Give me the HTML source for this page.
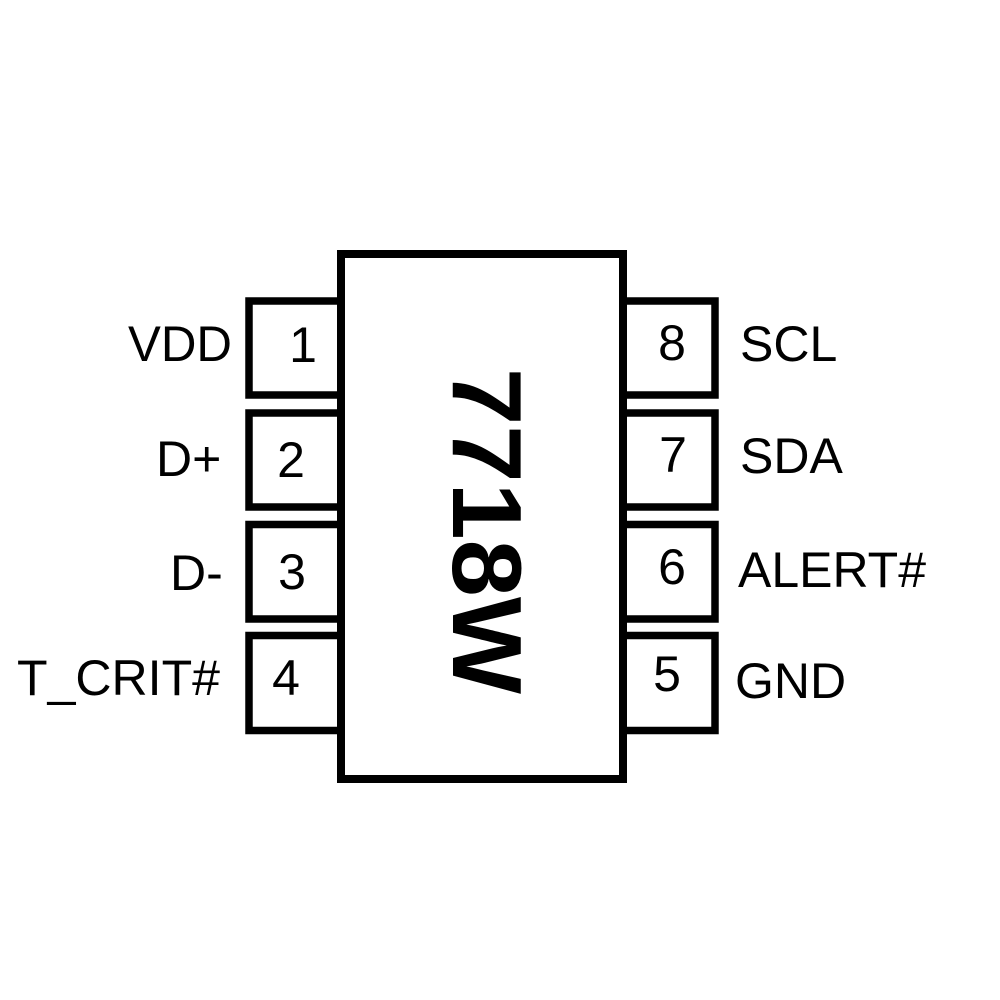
<!DOCTYPE html>
<html>
<head>
<meta charset="utf-8">
<style>
  html, body { margin:0; padding:0; background:#fff; }
  svg { display:block; }
  text { font-family: "Liberation Sans", Arial, sans-serif; fill:#000; }
</style>
</head>
<body>
<svg width="1000" height="1000" viewBox="0 0 1000 1000" xmlns="http://www.w3.org/2000/svg">
  <rect x="0" y="0" width="1000" height="1000" fill="#fff"/>

  <!-- Left pins (outer 245..345, stroke 8) -->
  <g fill="#fff" stroke="#000" stroke-width="7.5">
    <rect x="249" y="301" width="96" height="94"/>
    <rect x="249" y="413" width="96" height="94"/>
    <rect x="249" y="524.5" width="96" height="94.5"/>
    <rect x="249" y="635.5" width="96" height="95"/>
    <!-- Right pins (outer 619..719) -->
    <rect x="619" y="301" width="96" height="94"/>
    <rect x="619" y="413" width="96" height="94"/>
    <rect x="619" y="524.5" width="96" height="94.5"/>
    <rect x="619" y="635.5" width="96" height="95"/>
  </g>

  <!-- Body: outer 337..627, 250..783 -->
  <rect x="341" y="254" width="282" height="525" fill="#fff" stroke="#000" stroke-width="8"/>

  <!-- Pin numbers -->
  <g font-size="50" text-anchor="middle">
    <text x="303" y="362">1</text>
    <text x="291" y="477">2</text>
    <text x="292" y="589">3</text>
    <text x="286" y="695">4</text>
    <text x="672" y="360">8</text>
    <text x="673" y="472">7</text>
    <text x="672" y="584">6</text>
    <text x="667" y="691">5</text>
  </g>

  <!-- Left labels -->
  <g font-size="50">
    <text x="128" y="361" textLength="104" lengthAdjust="spacingAndGlyphs">VDD</text>
    <text x="156" y="476">D+</text>
    <text x="170" y="590">D-</text>
    <text x="17" y="695" textLength="203" lengthAdjust="spacingAndGlyphs">T_CRIT#</text>
  </g>

  <!-- Right labels -->
  <g font-size="50">
    <text x="740" y="361">SCL</text>
    <text x="740" y="473">SDA</text>
    <text x="738" y="587" textLength="188" lengthAdjust="spacingAndGlyphs">ALERT#</text>
    <text x="735" y="698">GND</text>
  </g>

  <!-- Rotated part marking -->
  <text transform="translate(453,531) rotate(90)" font-size="98" font-weight="bold" text-anchor="middle" textLength="326" lengthAdjust="spacingAndGlyphs">7718W</text>
</svg>
</body>
</html>
